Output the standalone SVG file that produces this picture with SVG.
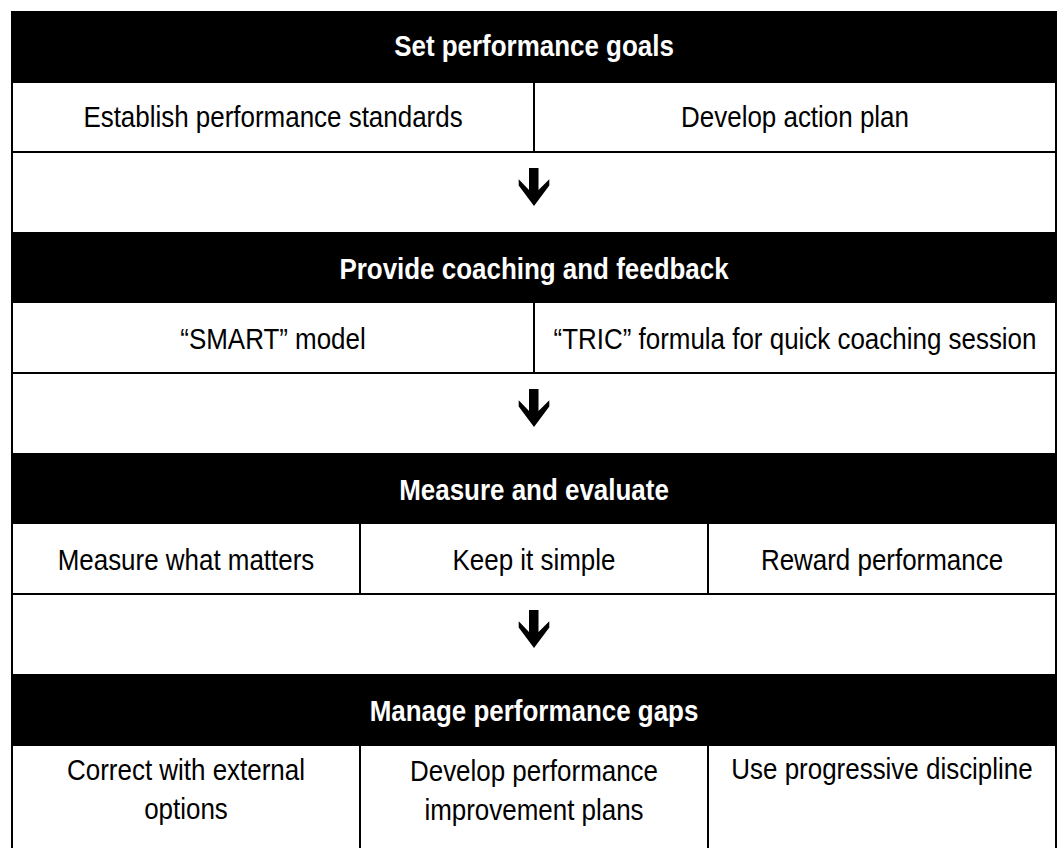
<svg xmlns="http://www.w3.org/2000/svg" xmlns:xlink="http://www.w3.org/1999/xlink" width="1059" height="848" viewBox="0 0 1059 848">
  <style>
    .band { fill: #000; }
    .rule { stroke: #000; stroke-width: 2; fill: none; }
    .head { font-family: "Liberation Sans", Arial, sans-serif; font-size: 29.5px; font-weight: bold; fill: #fff; text-anchor: middle; }
    .item { font-family: "Liberation Sans", Arial, sans-serif; font-size: 29.5px; fill: #000; text-anchor: middle; }
  </style>
  <defs>
    <!-- bold downward arrow between stages -->
    <path id="down" d="M529,0 H538.5 V22 L549.3,11.3 V17.5 L534,38 L518.7,17.5 V11.3 L529,22 Z" fill="#000"/>
  </defs>

  <rect width="1059" height="848" fill="#fff"/>

  <!-- outer frame -->
  <g id="frame">
    <line class="rule" x1="12" y1="11" x2="12" y2="848"/>
    <line class="rule" x1="1056" y1="11" x2="1056" y2="848"/>
  </g>

  <!-- Stage 1 -->
  <g id="stage-set-goals">
    <rect class="band" x="11" y="11" width="1046" height="72"/>
    <text class="head" transform="translate(534,56) scale(0.88,1)">Set performance goals</text>
  </g>
  <g id="standards">
    <text class="item" transform="translate(273,127) scale(0.88,1)">Establish performance standards</text>
  </g>
  <g id="action-plan">
    <text class="item" transform="translate(795,127) scale(0.88,1)">Develop action plan</text>
  </g>
  <line class="rule" x1="534" y1="83" x2="534" y2="152"/>
  <line class="rule" x1="12" y1="152" x2="1056" y2="152"/>

  <!-- Stage 2 -->
  <g id="stage-coaching">
    <rect class="band" x="11" y="232" width="1046" height="71"/>
    <text class="head" transform="translate(534,278.5) scale(0.88,1)">Provide coaching and feedback</text>
  </g>
  <g id="smart">
    <text class="item" transform="translate(273,348.5) scale(0.88,1)">“SMART” model</text>
  </g>
  <g id="tric">
    <text class="item" transform="translate(795,348.5) scale(0.88,1)">“TRIC” formula for quick coaching session</text>
  </g>
  <line class="rule" x1="534" y1="303" x2="534" y2="373"/>
  <line class="rule" x1="12" y1="373" x2="1056" y2="373"/>

  <!-- Stage 3 -->
  <g id="stage-measure">
    <rect class="band" x="11" y="453" width="1046" height="71"/>
    <text class="head" transform="translate(534,500) scale(0.88,1)">Measure and evaluate</text>
  </g>
  <g id="what-matters">
    <text class="item" transform="translate(186,569.5) scale(0.88,1)">Measure what matters</text>
  </g>
  <g id="keep-simple">
    <text class="item" transform="translate(534,569.5) scale(0.88,1)">Keep it simple</text>
  </g>
  <g id="reward">
    <text class="item" transform="translate(882,569.5) scale(0.88,1)">Reward performance</text>
  </g>
  <line class="rule" x1="360" y1="524" x2="360" y2="594"/>
  <line class="rule" x1="708" y1="524" x2="708" y2="594"/>
  <line class="rule" x1="12" y1="594" x2="1056" y2="594"/>

  <!-- Stage 4 -->
  <g id="stage-gaps">
    <rect class="band" x="11" y="674" width="1046" height="72"/>
    <text class="head" transform="translate(534,721) scale(0.88,1)">Manage performance gaps</text>
  </g>
  <g id="external-options">
    <text class="item" transform="translate(186,780) scale(0.88,1)">Correct with external</text>
    <text class="item" transform="translate(186,819) scale(0.88,1)">options</text>
  </g>
  <g id="improvement-plans">
    <text class="item" transform="translate(534,781) scale(0.88,1)">Develop performance</text>
    <text class="item" transform="translate(534,820) scale(0.88,1)">improvement plans</text>
  </g>
  <g id="discipline">
    <text class="item" transform="translate(882,778.5) scale(0.88,1)">Use progressive discipline</text>
  </g>
  <line class="rule" x1="360" y1="746" x2="360" y2="848"/>
  <line class="rule" x1="708" y1="746" x2="708" y2="848"/>

  <!-- arrows between stages -->
  <g id="connectors">
    <use xlink:href="#down" href="#down" transform="translate(0,168)"/>
    <use xlink:href="#down" href="#down" transform="translate(0,389)"/>
    <use xlink:href="#down" href="#down" transform="translate(0,610)"/>
  </g>
</svg>
